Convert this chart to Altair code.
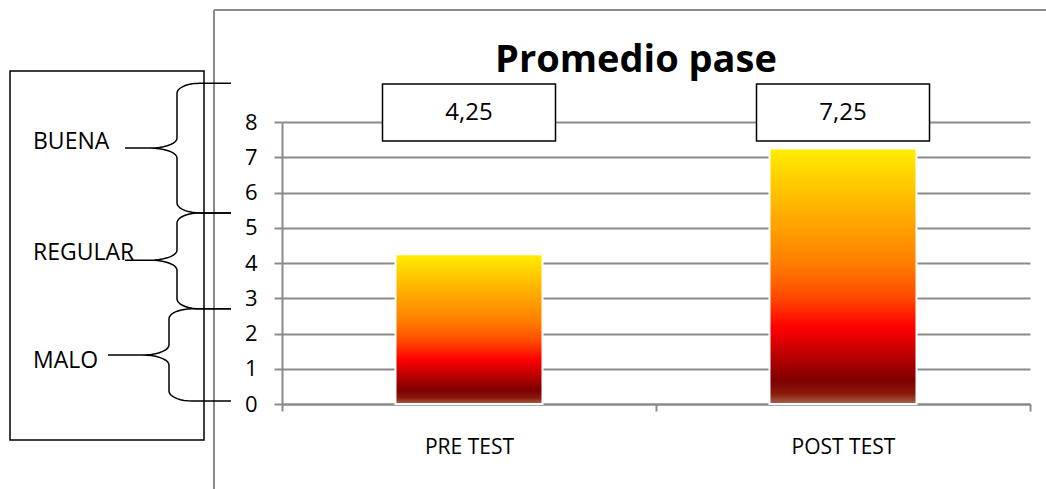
import altair as alt
import pandas as pd
import numpy as np

# ---- data ----
categories = ["PRE TEST", "POST TEST"]
values = [4.25, 7.25]
value_labels = ["4,25", "7,25"]

bands = ["BUENA", "REGULAR", "MALO"]
band_top = [9.1, 5.42, 2.7]
band_bottom = [5.42, 2.7, 0.085]
band_tip = [7.26, 4.08, 1.39]
band_label_y = [7.23, 4.09, 1.02]
y_ticks = [0, 1, 2, 3, 4, 5, 6, 7, 8]

# ---- layout (pixels, relative to plot origin) ----
W, H = 748, 282
PAD_L, PAD_T = 282, 122
PX_PER_UNIT = H / 8.0
brace_vx = [-105, -105, -113]
brace_tipx = [-157, -157, -174]
brace_endx = -51
rx1, rx2 = 23, 27
ry = 10 / PX_PER_UNIT

FONT = "Open Sans"
GRAY = "#8a8a8a"

df = pd.DataFrame({"cat": categories, "val": values, "lab": value_labels})

# brace paths
rows = []
for b, top, bot, tip, vx, tx in zip(bands, band_top, band_bottom, band_tip, brace_vx, brace_tipx):
    pts = [(brace_endx, top)]
    for t in np.linspace(np.pi / 2, np.pi, 10):
        pts.append((vx + rx1 + rx1 * np.cos(t), top - ry + ry * np.sin(t)))
    for t in np.linspace(0, -np.pi / 2, 10):
        pts.append((vx - rx2 + rx2 * np.cos(t), tip + ry + ry * np.sin(t)))
    pts.append((tx, tip))
    for t in np.linspace(np.pi / 2, 0, 10):
        pts.append((vx - rx2 + rx2 * np.cos(t), tip - ry + ry * np.sin(t)))
    for t in np.linspace(np.pi, 1.5 * np.pi, 10):
        pts.append((vx + rx1 + rx1 * np.cos(t), bot + ry + ry * np.sin(t)))
    pts.append((brace_endx, bot))
    for i, (x, y) in enumerate(pts):
        rows.append({"band": b, "i": i, "px": float(x), "py": float(y)})
brace_df = pd.DataFrame(rows)
label_df = pd.DataFrame({"band": bands, "ly": band_label_y})

yscale = alt.Scale(domain=[0, 8])
xscale = alt.Scale(paddingInner=0, paddingOuter=0)
xaxis = alt.Axis(
    title=None, labelAngle=0, tickBand="extent", grid=False,
    labelFont=FONT, labelFontSize=21, labelColor="#000",
    domainColor=GRAY, domainWidth=2, tickColor=GRAY, tickWidth=2,
    tickSize=7, labelPadding=25,
)
yaxis = alt.Axis(
    title=None, values=y_ticks, grid=True, gridColor=GRAY, gridWidth=2,
    labelFont=FONT, labelFontSize=22, labelColor="#000", labelOverlap=False,
    domainColor=GRAY, domainWidth=2, tickColor=GRAY, tickWidth=2,
    tickSize=8, labelPadding=17,
)

def xenc():
    return alt.X("cat:N", sort=categories, scale=xscale, axis=xaxis)

fire = alt.Gradient(
    gradient="linear",
    x1=0, x2=0, y1=1, y2=0,
    stops=[
        alt.GradientStop(offset=0.0, color="#A8654F"),
        alt.GradientStop(offset=0.04, color="#8A1A0A"),
        alt.GradientStop(offset=0.09, color="#7E0000"),
        alt.GradientStop(offset=0.30, color="#FF0000"),
        alt.GradientStop(offset=0.42, color="#FF4A00"),
        alt.GradientStop(offset=0.55, color="#FF7E00"),
        alt.GradientStop(offset=0.75, color="#FFAE00"),
        alt.GradientStop(offset=1.0, color="#FFEE00"),
    ],
)

bars = alt.Chart(df).mark_bar(size=147, color=fire, stroke="white", strokeWidth=2).encode(
    x=xenc(),
    y=alt.Y("val:Q", scale=yscale, axis=yaxis),
)

boxes = alt.Chart(df).mark_bar(size=173, fill="white", stroke="black", strokeWidth=1.5).encode(
    x=xenc(), y=alt.value(-38), y2=alt.value(19)
)
box_text = alt.Chart(df).mark_text(font=FONT, fontSize=24, color="#000", baseline="middle").encode(
    x=xenc(), y=alt.value(-9), text="lab:N"
)

one = alt.Data(values=[{}])
title = alt.Chart(one).mark_text(
    text="Promedio pase", font=FONT, fontSize=38, fontWeight="bold", color="#000",
    baseline="alphabetic", align="center",
).encode(x=alt.value(354), y=alt.value(-50))

frame_v = alt.Chart(one).mark_rule(color=GRAY, strokeWidth=2).encode(
    x=alt.value(-68), y=alt.value(-112), y2=alt.value(370)
)
frame_h = alt.Chart(one).mark_rule(color=GRAY, strokeWidth=2).encode(
    x=alt.value(-68), x2=alt.value(770), y=alt.value(-112)
)
left_box = alt.Chart(one).mark_rect(fill="white", stroke="black", strokeWidth=1.5).encode(
    x=alt.value(-272), x2=alt.value(-78), y=alt.value(-51), y2=alt.value(318)
)

band_labels = alt.Chart(label_df).mark_text(
    font=FONT, fontSize=23, color="#000", align="left", baseline="alphabetic"
).encode(
    x=alt.value(-249),
    y=alt.Y("ly:Q", scale=yscale, axis=yaxis),
    text="band:N",
)

braces = alt.Chart(brace_df).mark_line(color="black", strokeWidth=1.5).encode(
    x=alt.X("px:Q", scale=None, axis=None),
    y=alt.Y("py:Q", scale=yscale, axis=yaxis),
    detail="band:N",
    order="i:Q",
)

chart = alt.layer(
    frame_v, frame_h, left_box, bars, boxes, box_text, title, band_labels, braces
).properties(
    width=W, height=H,
    padding={"left": PAD_L, "top": PAD_T, "right": 1046 - PAD_L - W, "bottom": 489 - PAD_T - H},
    autosize=alt.AutoSizeParams(type="none"),
    background="white",
).configure_view(stroke=None)

chart.save("out.html", embed_options={"renderer": "svg", "actions": False})
